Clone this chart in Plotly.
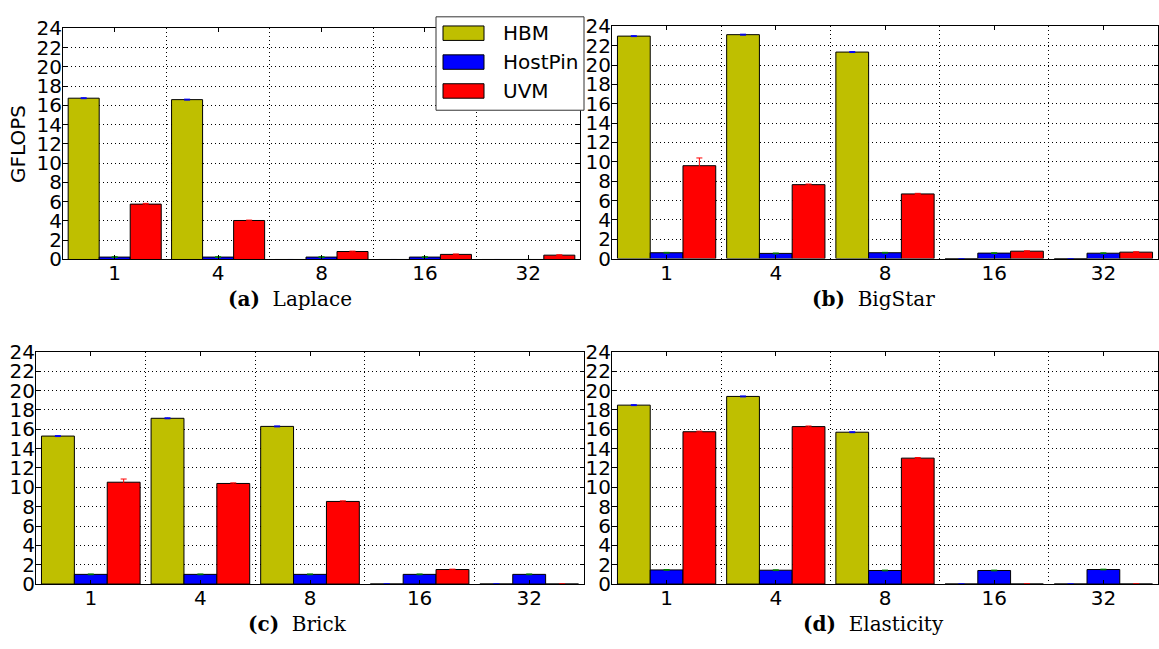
import plotly.graph_objects as go

W, H = 1159, 649

# ---- data -------------------------------------------------------------
threads = ["1", "4", "8", "16", "32"]
series = ["HBM", "HostPin", "UVM"]
bar_colors = ["#bfbf00", "#0000ff", "#ff0000"]
err_colors = ["#0000ff", "#008000", "#ff0000"]

laplace_hbm = [16.75, 16.6, 0, 0, 0]
laplace_hostpin = [0.25, 0.25, 0.25, 0.25, 0]
laplace_uvm = [5.75, 4.05, 0.83, 0.53, 0.45]
laplace_hbm_err = [0.05, 0.05, 0, 0, 0]
laplace_hostpin_err = [0.04, 0.04, 0.04, 0.04, 0]
laplace_uvm_err = [0.08, 0.04, 0.04, 0.04, 0.04]

bigstar_hbm = [23.0, 23.15, 21.35, 0, 0]
bigstar_hostpin = [0.6, 0.53, 0.6, 0.56, 0.55]
bigstar_uvm = [9.6, 7.64, 6.68, 0.76, 0.66]
bigstar_hbm_err = [0.05, 0.05, 0.05, 0, 0]
bigstar_hostpin_err = [0.04, 0.04, 0.04, 0.04, 0.04]
bigstar_uvm_err = [0.8, 0.06, 0.06, 0.04, 0.04]

brick_hbm = [15.3, 17.14, 16.3, 0, 0]
brick_hostpin = [1.0, 1.0, 1.0, 1.0, 1.0]
brick_uvm = [10.53, 10.4, 8.54, 1.5, 0]
brick_hbm_err = [0.05, 0.05, 0.05, 0, 0]
brick_hostpin_err = [0.04, 0.04, 0.04, 0.04, 0.04]
brick_uvm_err = [0.33, 0.06, 0.06, 0.04, 0]

elasticity_hbm = [18.5, 19.4, 15.7, 0, 0]
elasticity_hostpin = [1.46, 1.43, 1.4, 1.4, 1.5]
elasticity_uvm = [15.75, 16.28, 13.02, 0, 0]
elasticity_hbm_err = [0.05, 0.05, 0.05, 0, 0]
elasticity_hostpin_err = [0.04, 0.04, 0.04, 0.04, 0.04]
elasticity_uvm_err = [0.06, 0.06, 0.06, 0, 0]

captions = [("(a)", "Laplace"), ("(b)", "BigStar"), ("(c)", "Brick"), ("(d)", "Elasticity")]
y_title = "GFLOPS"

panel_values = [
    ([laplace_hbm, laplace_hostpin, laplace_uvm],
     [laplace_hbm_err, laplace_hostpin_err, laplace_uvm_err]),
    ([bigstar_hbm, bigstar_hostpin, bigstar_uvm],
     [bigstar_hbm_err, bigstar_hostpin_err, bigstar_uvm_err]),
    ([brick_hbm, brick_hostpin, brick_uvm],
     [brick_hbm_err, brick_hostpin_err, brick_uvm_err]),
    ([elasticity_hbm, elasticity_hostpin, elasticity_uvm],
     [elasticity_hbm_err, elasticity_hostpin_err, elasticity_uvm_err]),
]

# ---- layout geometry (pixel boxes: left, top, right, bottom) ----------
boxes = [(63, 17, 580, 257), (612, 15, 1158, 256),
         (36, 353, 584, 594), (612, 353, 1158, 594)]
caption_pos = [(290, 298), (873, 298), (297, 636), (873, 636)]


def xdom(l, r):
    return [l / W, r / W]


def ydom(t, b):
    return [1 - b / H, 1 - t / H]


pos = list(range(len(threads)))
boundaries = [p + 0.5 for p in pos[:-1]]

fig = go.Figure()
tick_font = dict(family="DejaVu Sans", size=20, color="black")

for i, ((vals, errs), box) in enumerate(zip(panel_values, boxes)):
    n = "" if i == 0 else str(i + 1)
    xa, ya = "x" + n, "y" + n
    for j in range(len(series)):
        fig.add_trace(go.Bar(
            x=pos, y=vals[j], name=series[j], showlegend=False,
            xaxis=xa, yaxis=ya,
            marker=dict(color=bar_colors[j], line=dict(color="black", width=1)),
            error_y=dict(type="data", array=errs[j], color=err_colors[j],
                         thickness=1, width=3, visible=True),
        ))
    l, t, r, b = box
    axis_common = dict(showline=True, linecolor="black", linewidth=1,
                       mirror="ticks", ticks="inside", ticklen=4,
                       tickcolor="black", tickfont=tick_font, zeroline=False)
    fig.layout["xaxis" + n] = dict(
        domain=xdom(l, r), anchor=ya, range=[-0.5, len(threads) - 0.5],
        tickvals=pos, ticktext=threads, showgrid=False,
        minor=dict(tickvals=boundaries, showgrid=True, gridcolor="black",
                   gridwidth=1, griddash="1px,3px", ticks=""),
        ticklabelstandoff=-4,
        **axis_common)
    fig.layout["yaxis" + n] = dict(
        domain=ydom(t, b), anchor=xa, range=[0, 24], dtick=2,
        showgrid=True, gridcolor="black", gridwidth=1, griddash="1px,3px",
        ticklabelstandoff=-4,
        **axis_common)
    tag, name = captions[i]
    cx, cy = caption_pos[i]
    fig.add_annotation(
        x=cx / W, y=1 - cy / H, xref="paper", yref="paper",
        text=f"<b>{tag}</b>  {name}", showarrow=False,
        font=dict(family="DejaVu Serif", size=20, color="black"),
        xanchor="center", yanchor="middle")

fig.add_annotation(
    x=18 / W, y=1 - 137 / H, xref="paper", yref="paper", text=y_title,
    textangle=-90, showarrow=False,
    font=dict(family="DejaVu Sans", size=20, color="black"),
    xanchor="center", yanchor="middle")

# ---- legend box ---------------------------------------------------------
leg_l, leg_t, leg_r, leg_b = 436, 5, 584, 102
fig.add_shape(type="rect", xref="paper", yref="paper",
              x0=leg_l / W, x1=leg_r / W, y0=1 - leg_b / H, y1=1 - leg_t / H,
              fillcolor="white", line=dict(color="#333333", width=1), layer="above")
row_centers = [22, 52, 82]
for j, name in enumerate(series):
    cy = row_centers[j]
    fig.add_shape(type="rect", xref="paper", yref="paper",
                  x0=443 / W, x1=484 / W, y0=1 - (cy + 7.5) / H, y1=1 - (cy - 7.5) / H,
                  fillcolor=bar_colors[j], line=dict(color="black", width=1),
                  layer="above")
    fig.add_annotation(x=501 / W, y=1 - cy / H, xref="paper", yref="paper",
                       text=name, showarrow=False, xanchor="left", yanchor="middle",
                       font=dict(family="DejaVu Sans", size=20, color="black"))

fig.update_layout(
    width=W, height=H, margin=dict(l=0, r=0, t=0, b=0),
    paper_bgcolor="white", plot_bgcolor="white",
    barmode="group", bargap=0.1, bargroupgap=0,
    showlegend=False,
)

fig.write_html("out.html")
